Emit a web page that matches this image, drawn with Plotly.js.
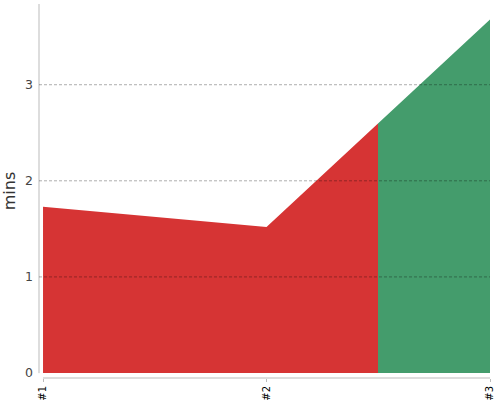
<!DOCTYPE html>
<html>
<head>
<script src="https://cdn.plot.ly/plotly-3.0.1.min.js"></script>
<style>html,body{margin:0;padding:0;background:#fff;}#chart{width:500px;height:400px;}</style>
</head>
<body>
<div id="chart"></div>
<script>
const categories = ['#1', '#2', '#3'];
const values = [1.73, 1.52, 3.68];
const pointColors = ['#d63434', '#d63434', '#449c6c'];
const yTicks = [0, 1, 2, 3];

const idx = categories.map((c, i) => i);
const n = categories.length;
// colour stops: each point owns half an interval on each side
const cs = [];
for (let i = 0; i < n; i++) {
  const a = Math.max(0, (i - 0.5) / (n - 1));
  const b = Math.min(1, (i + 0.5) / (n - 1));
  cs.push([a, pointColors[i]]);
  cs.push([b, pointColors[i]]);
}

const trace = {
  x: idx,
  y: values,
  type: 'scatter',
  mode: 'lines',
  line: {width: 0, color: 'rgba(0,0,0,0)'},
  fill: 'tozeroy',
  fillcolor: pointColors[0],
  fillgradient: {type: 'horizontal', colorscale: cs},
  hoverinfo: 'skip'
};

const gridShapes = yTicks.filter(v => v > 0).map(v => ({
  type: 'line', xref: 'paper', yref: 'y', x0: 0, x1: 1, y0: v, y1: v,
  layer: 'above', line: {color: 'rgba(0,0,0,0.32)', width: 1, dash: '3px,2px'}
}));

const layout = {
  width: 500, height: 400,
  margin: {l: 39, r: 10, t: 4, b: 22},
  paper_bgcolor: '#fff', plot_bgcolor: '#fff',
  showlegend: false,
  font: {family: 'DejaVu Sans, sans-serif'},
  xaxis: {
    range: [-0.018, 2],
    tickvals: idx, ticktext: categories,
    tickangle: -90,
    ticks: 'outside', ticklen: 3, tickcolor: '#bbb',
    tickfont: {size: 10, color: '#000'},
    showgrid: false, zeroline: false, showline: false,
    fixedrange: true
  },
  yaxis: {
    range: [-0.052, 3.84],
    tickvals: yTicks,
    ticks: '', ticklabelstandoff: 5,
    tickfont: {size: 12.5, color: '#444'},
    showgrid: false,
    zeroline: false, showline: false,
    title: {text: 'mins', font: {size: 16, color: '#333'}, standoff: 8},
    fixedrange: true
  },
  shapes: [
    {type: 'line', xref: 'paper', yref: 'paper', x0: 0, x1: 0, y0: 0.013, y1: 1, line: {color: '#bbb', width: 1}},
    {type: 'line', xref: 'x', yref: 'paper', x0: 0, x1: 2, y0: 0, y1: 0, line: {color: '#bbb', width: 1}}
  ].concat(gridShapes)
};

Plotly.newPlot('chart', [trace], layout, {displayModeBar: false, staticPlot: true});
</script>
</body>
</html>
